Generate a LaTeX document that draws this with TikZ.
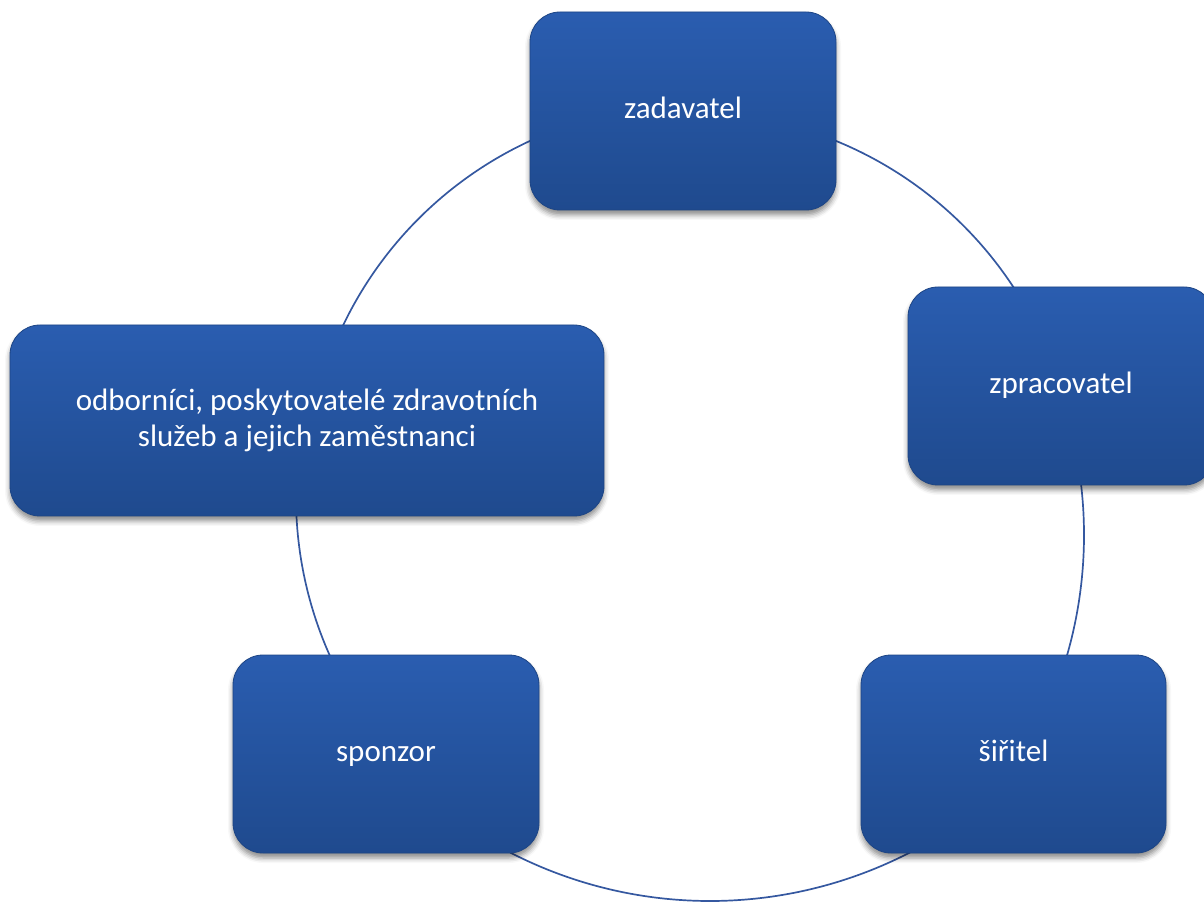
\documentclass[tikz,border=0pt]{standalone}
\usepackage{fontspec}
\setmainfont{Carlito}
\usetikzlibrary{shadows.blur}
\definecolor{boxtop}{HTML}{2A5DB0}
\definecolor{boxbot}{HTML}{1F4A8E}
\definecolor{boxedge}{HTML}{1D4585}
\definecolor{arcblue}{HTML}{3558A0}
\begin{document}
\begin{tikzpicture}[x=1pt,y=1pt,
  cbox/.style={rounded corners=30pt, minimum width=306pt, minimum height=198pt,
    inner sep=0pt, top color=boxtop, bottom color=boxbot, draw=boxedge,
    line width=0.8pt, text=white, align=center,
    font=\fontsize{31}{35.6}\selectfont,
    blur shadow={shadow xshift=0pt, shadow yshift=-5pt, shadow blur radius=5pt, shadow opacity=45}},
  oneline/.style={text height=22pt, text depth=7pt},
  link/.style={draw=arcblue, line width=1.7pt}]
\useasboundingbox (0,0) rectangle (1204,903);
% circle centres of the connecting arcs
\coordinate (c1) at (693,410);
\coordinate (c2) at (689,403);
\coordinate (c3) at (649,368);
\coordinate (c4) at (710,438);
\coordinate (c5) at (685,406);
\draw[link] (c1) ++(113:388) arc[start angle=113, end angle=156, radius=388pt];
\draw[link] (c2) ++(69:388) arc[start angle=69, end angle=32, radius=388pt];
\draw[link] (c3) ++(7:435) arc[start angle=7, end angle=-17, radius=435pt];
\draw[link] (c4) ++(-118:436) arc[start angle=-118, end angle=-62, radius=436pt];
\draw[link] (c5) ++(180:389) arc[start angle=180, end angle=206, radius=389pt];
% boxes
\node[cbox, oneline] (zad) at (683,792) {zadavatel};
\node[cbox, oneline] (zpr) at (1061,517) {zpracovatel};
\node[cbox, oneline, minimum width=305pt] (sir) at (1013.5,149) {šiřitel};
\node[cbox, oneline] (spo) at (386,149) {sponzor};
\node[cbox, minimum width=594pt, minimum height=191pt] (odb) at (307,482.5)
  {odborníci, poskytovatelé zdravotních\\služeb a jejich zaměstnanci};
\end{tikzpicture}
\end{document}
